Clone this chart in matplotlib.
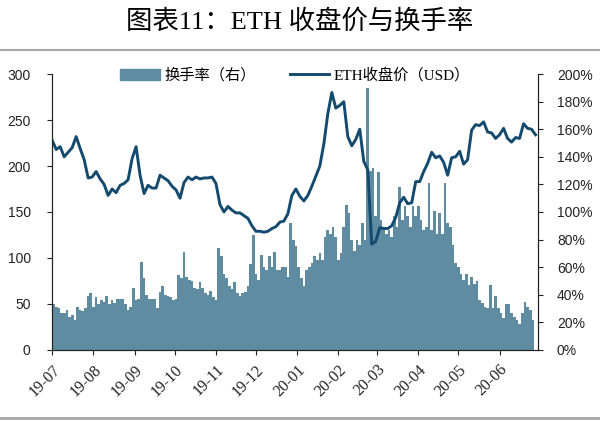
import datetime as dt
import matplotlib
matplotlib.use("Agg")
import matplotlib.pyplot as plt
import matplotlib.dates as mdates
import matplotlib.ticker as mticker
from matplotlib.lines import Line2D

plt.rcParams['font.family'] = ['Liberation Sans', 'Noto Sans CJK SC']

# ETH 收盘价（USD），从 2019-07-01 起每 3 天一个点
price = [228, 218, 221, 210, 215, 220, 232, 219, 207, 187,
         188, 194, 186, 180, 168, 175, 171, 179, 181, 185,
         208, 221, 190, 170, 179, 176, 176, 190, 187, 184,
         178, 174, 165, 182, 188, 185, 188, 186, 187, 187,
         188, 181, 158, 150, 156, 152, 149, 149, 146, 143,
         135, 129, 129, 128, 129, 132, 134, 139, 140, 148,
         168, 175, 167, 162, 168, 178, 189, 200, 224, 257,
         280, 263, 266, 270, 232, 222, 229, 240, 205, 196,
         115, 118, 133, 132, 132, 135, 144, 160, 166, 159,
         160, 183, 183, 194, 203, 215, 209, 211, 204, 190,
         209, 210, 216, 202, 207, 239, 245, 244, 248, 237,
         236, 230, 234, 241, 230, 226, 231, 230, 246, 241,
         240, 234]

# 换手率（%），从 2019-07-01 起每 2 天一根柱
turnover = [33, 31, 30, 27, 27, 29, 24, 25, 22, 31,
            29, 28, 30, 39, 41, 31, 38, 33, 36, 35,
            39, 33, 36, 34, 37, 37, 37, 33, 29, 31,
            45, 36, 37, 64, 52, 40, 37, 37, 37, 30,
            42, 46, 40, 39, 38, 36, 37, 54, 52, 71,
            53, 51, 50, 45, 44, 49, 45, 41, 40, 43,
            38, 36, 74, 68, 55, 52, 46, 44, 49, 41,
            39, 41, 42, 46, 62, 83, 55, 51, 69, 60,
            58, 68, 60, 71, 58, 58, 60, 60, 53,
            92, 80, 75, 60, 52, 46, 58, 60, 63, 68,
            65, 70, 65, 82, 87, 84, 89, 82, 65, 70,
            89, 105, 99, 80, 72, 80, 76, 92, 80, 190,
            130, 132, 97, 129, 94, 89, 84, 87, 82, 97,
            89, 118, 94, 104, 97, 89, 104, 97, 104, 94,
            87, 89, 121, 87, 101, 84, 99, 84, 121, 92,
            89, 76, 63, 60, 55, 51, 55, 47, 53, 48,
            50, 36, 34, 31, 30, 47, 30, 39, 30, 27,
            23, 33, 33, 27, 24, 22, 19, 27, 35, 31,
            29, 22]

start = dt.date(2019, 7, 1)
price_dates = [start + dt.timedelta(days=3 * i) for i in range(len(price))]
bar_dates = [start + dt.timedelta(days=2 * i) for i in range(len(turnover))]

bar_color = '#5f8ca0'
line_color = '#134a6e'

fig = plt.figure(figsize=(6, 4.21), dpi=100)
ax = fig.add_axes([0.087, 0.169, 0.810, 0.655])
ax2 = ax.twinx()

# 柱子在右轴，曲线在左轴且画在上面
ax2.bar(bar_dates, turnover, width=2, align='edge', color=bar_color, linewidth=0)
ax.plot(price_dates, price, color=line_color, linewidth=2.1)
ax.set_zorder(ax2.get_zorder() + 1)
ax.patch.set_visible(False)

ax.set_xlim(start, dt.date(2020, 6, 30))
ax.set_ylim(0, 300)
ax.set_yticks(range(0, 301, 50))
ax2.set_ylim(0, 200)
ax2.set_yticks(range(0, 201, 20))
ax2.yaxis.set_major_formatter(mticker.FuncFormatter(lambda v, p: '%d%%' % v))

ax.xaxis.set_major_locator(mdates.MonthLocator())
ax.xaxis.set_major_formatter(mdates.DateFormatter('%y-%m'))
for lab in ax.get_xticklabels():
    lab.set_rotation(45)
    lab.set_ha('right')
    lab.set_rotation_mode('anchor')
    lab.set_family(['Liberation Serif'])
    lab.set_fontsize(11.5)

for a in (ax, ax2):
    a.spines['top'].set_visible(False)
    for s in a.spines.values():
        s.set_color('#222222')
        s.set_linewidth(0.8)
    a.tick_params(length=3.5, width=0.8, labelsize=10, colors='#222222')
ax.tick_params(axis='y', pad=12)
ax2.tick_params(axis='y', pad=10)
ax.tick_params(axis='x', pad=5, labelsize=11.5)

# 图例
handles = [plt.Rectangle((0, 0), 1, 1, color=bar_color),
           Line2D([0], [0], color=line_color, linewidth=2.1)]
ax.legend(handles, ['换手率（右）', 'ETH收盘价（USD）'], loc='center',
          bbox_to_anchor=(0.5, 0.995), ncol=2, frameon=False,
          prop={'family': ['Liberation Serif', 'Noto Sans CJK SC'], 'size': 11},
          handlelength=2.6, columnspacing=2.2, handletextpad=0.3)

# 标题和分隔线
fig.text(0.5, 0.948, '图表11：ETH 收盘价与换手率', ha='center', va='center',
         fontsize=19, family=['Liberation Serif', 'Noto Sans CJK SC'])
fig.add_artist(Line2D([0, 1], [1 - 50 / 421, 1 - 50 / 421], color='#a6a6a6', linewidth=1.5))
fig.add_artist(Line2D([0, 1], [1 - 418 / 421, 1 - 418 / 421], color='#a6a6a6', linewidth=2.0))

fig.savefig('out.png', dpi=100)
